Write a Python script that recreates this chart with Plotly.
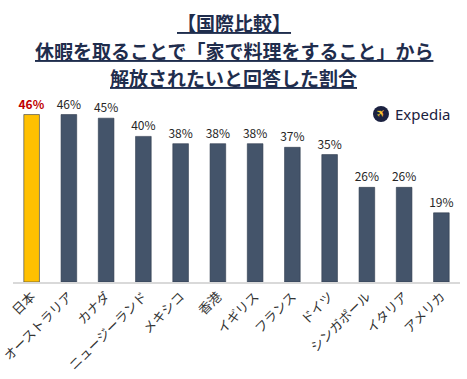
import plotly.graph_objects as go

countries = ["日本", "オーストラリア", "カナダ", "ニュージーランド", "メキシコ", "香港",
             "イギリス", "フランス", "ドイツ", "シンガポール", "イタリア", "アメリカ"]
values = [46, 46, 45, 40, 38, 38, 38, 37, 35, 26, 26, 19]
value_labels = [f"{v}%" for v in values]
title_lines = ["【国際比較】", "休暇を取ることで「家で料理をすること」から", "解放されたいと回答した割合"]

bar_colors = ["#FFC000"] + ["#44546A"] * (len(values) - 1)
text_colors = ["#C00000"] + ["#262626"] * (len(values) - 1)
label_texts = ["<b>" + value_labels[0] + "</b>"] + value_labels[1:]

FONT = "Noto Sans CJK JP"

fig = go.Figure()
fig.add_trace(go.Bar(
    x=countries, y=values,
    marker=dict(color=bar_colors, line=dict(color="#2F3B4E", width=0.6)),
    text=label_texts, textposition="outside", cliponaxis=False, constraintext="none",
    textfont=dict(family=FONT, size=12, color=text_colors),
    hoverinfo="skip",
))

W, H = 467, 379
ML, MR, MT, MB = 13, 7, 100, 97
fig.update_layout(
    width=W, height=H,
    margin=dict(l=ML, r=MR, t=MT, b=MB, autoexpand=False),
    paper_bgcolor="white", plot_bgcolor="white",
    bargap=0.58, showlegend=False,
    font=dict(family=FONT, color="#262626"),
)
fig.update_xaxes(
    tickangle=-45, tickfont=dict(family=FONT, size=13, color="#333333"),
    showline=True, linecolor="#D9D9D9", linewidth=1.5, ticks="", showgrid=False,
    automargin=False,
)
fig.update_yaxes(range=[0, 50], visible=False, showgrid=False, automargin=False)

PW, PH = W - ML - MR, H - MT - MB
def px2paper(px, py):
    return (px - ML) / PW, (H - MB - py) / PH

# title lines
title_y = [22, 50, 77]
for line, yy in zip(title_lines, title_y):
    xx, yy2 = px2paper(W / 2, yy)
    fig.add_annotation(
        text="<b><u>" + line + "</u></b>", xref="paper", yref="paper",
        x=xx, y=yy2,
        showarrow=False, xanchor="center", yanchor="middle",
        font=dict(family=FONT, size=19, color="#1F2D4D"),
    )

# Expedia logo
cx, cy = 381, 114
x0, y0 = px2paper(cx - 8, cy - 8)
x1, y1 = px2paper(cx + 8, cy + 8)
fig.add_shape(type="circle", xref="paper", yref="paper", x0=x0, y0=y1, x1=x1, y1=y0,
              fillcolor="#1B2140", line=dict(width=0))
ax, ay = px2paper(cx, cy)
fig.add_annotation(text="✈", xref="paper", yref="paper", x=ax, y=ay, showarrow=False,
                   xanchor="center", yanchor="middle",
                   font=dict(family="DejaVu Sans", size=11, color="#FFC72C"), textangle=-45)
tx, ty = px2paper(393, cy)
fig.add_annotation(text="Expedia", xref="paper", yref="paper", x=tx, y=ty, showarrow=False,
                   xanchor="left", yanchor="middle",
                   font=dict(family="Noto Sans", size=15, color="#1B2140"))

fig.write_html("out.html", config={"displayModeBar": False},
               post_script="document.body.style.margin='0';document.body.style.overflow='hidden';")
